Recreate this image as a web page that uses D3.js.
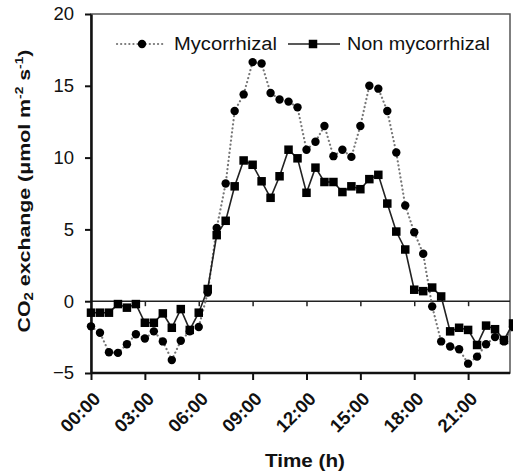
<!DOCTYPE html>
<html><head><meta charset="utf-8">
<script src="https://cdn.jsdelivr.net/npm/d3@7/dist/d3.min.js"></script>
<style>body{margin:0;background:#fff}svg{display:block}</style>
</head><body>
<svg id="c" width="513" height="475"></svg>
<script>
const hours = [0,0.5,1,1.5,2,2.5,3,3.5,4,4.5,5,5.5,6,6.5,7,7.5,8,8.5,9,9.5,10,10.5,11,11.5,
  12,12.5,13,13.5,14,14.5,15,15.5,16,16.5,17,17.5,18,18.5,19,19.5,20,20.5,21,21.5,22,22.5,23,23.5];
const mycorrhizal = [-1.75,-2.2,-3.55,-3.6,-3.0,-2.3,-2.6,-2.1,-2.8,-4.1,-2.75,-2.1,-1.8,0.6,5.1,8.2,
  13.25,14.4,16.65,16.55,14.5,14.05,13.9,13.5,10.55,11.1,12.2,10.1,10.55,10.05,12.2,15.0,
  14.8,13.25,10.35,6.66,4.8,3.3,-0.37,-2.8,-3.15,-3.35,-4.35,-3.86,-3.0,-2.5,-2.8,-1.8];
const nonMycorrhizal = [-0.8,-0.8,-0.8,-0.2,-0.45,-0.2,-1.5,-1.5,-0.85,-1.85,-0.55,-2.0,-0.8,0.85,4.6,5.6,
  8.0,9.8,9.5,8.35,7.2,8.7,10.55,9.95,7.55,9.3,8.3,8.3,7.6,8.0,7.8,8.5,
  8.8,6.8,4.85,3.6,0.8,0.7,0.95,0.33,-2.1,-1.85,-2.0,-3.05,-1.7,-1.95,-2.7,-1.55];
const yTicks = [-5,0,5,10,15,20];
const xTicks = [0,3,6,9,12,15,18,21];
const xTickLabels = ["00:00","03:00","06:00","09:00","12:00","15:00","18:00","21:00"];
const seriesNames = ["Mycorrhizal","Non mycorrhizal"];

const font = "'Liberation Sans', Arial, Helvetica, sans-serif";
const svg = d3.select("#c");
const L = 91, R = 510, T = 14, B = 373;
const x = d3.scaleLinear().domain([0,23.5]).range([L,513]);
const y = d3.scaleLinear().domain([-5,20]).range([B,T]);

// frame
svg.append("rect").attr("x",L).attr("y",T).attr("width",R-L).attr("height",B-T)
  .attr("fill","none").attr("stroke","#555").attr("stroke-width",1.5);

// zero line with ticks
const zg = svg.append("g").attr("transform",`translate(0,${y(0)})`)
  .call(d3.axisBottom(x).tickValues(xTicks.slice(1)).tickSize(5).tickSizeOuter(0).tickFormat(""));
zg.select(".domain").attr("stroke","#222").attr("stroke-width",1.5).attr("d",`M${L},0H${R}`);
zg.selectAll(".tick line").attr("stroke","#222").attr("stroke-width",1.5);

// y axis
const ya = svg.append("g").attr("transform",`translate(${L},0)`)
  .call(d3.axisLeft(y).tickValues(yTicks).tickSize(6).tickSizeOuter(0).tickPadding(11));
ya.select(".domain").attr("stroke","#111").attr("stroke-width",2.5);
ya.selectAll(".tick line").attr("stroke","#111").attr("stroke-width",2);
ya.selectAll(".tick text").attr("font-family",font).attr("font-size",18.5).attr("fill","#111");

// x axis
const xa = svg.append("g").attr("transform",`translate(0,${B})`)
  .call(d3.axisBottom(x).tickValues(xTicks).tickSize(7).tickSizeOuter(0).tickFormat(""));
xa.select(".domain").attr("stroke","#111").attr("stroke-width",2.5).attr("d",`M${L},0H${R}`);
xa.selectAll(".tick line").attr("stroke","#111").attr("stroke-width",2);
xa.selectAll(".tick").append("text")
  .attr("transform","translate(10,27) rotate(-45)")
  .attr("text-anchor","end").attr("font-family",font).attr("font-size",18.5).attr("font-weight","bold")
  .attr("fill","#111").text((d,i)=>xTickLabels[i]);

// lines
const line = d3.line().x((d,i)=>x(hours[i])).y(d=>y(d));
svg.append("path").datum(mycorrhizal).attr("d",line).attr("fill","none")
  .attr("stroke","#777").attr("stroke-width",2.2).attr("stroke-linecap","round").attr("stroke-dasharray","0.1 4");
svg.append("path").datum(nonMycorrhizal).attr("d",line).attr("fill","none")
  .attr("stroke","#222").attr("stroke-width",1.6);

svg.append("g").selectAll("circle").data(mycorrhizal).join("circle")
  .attr("cx",(d,i)=>x(hours[i])).attr("cy",d=>y(d)).attr("r",4.2).attr("fill","#000");
const s = 8.5;
svg.append("g").selectAll("rect").data(nonMycorrhizal).join("rect")
  .attr("x",(d,i)=>x(hours[i])-s/2).attr("y",d=>y(d)-s/2).attr("width",s).attr("height",s).attr("fill","#000");

// legend
const lg = svg.append("g");
lg.append("line").attr("x1",117).attr("x2",165).attr("y1",44).attr("y2",44)
  .attr("stroke","#777").attr("stroke-width",2.2).attr("stroke-linecap","round").attr("stroke-dasharray","0.1 4");
lg.append("circle").attr("cx",142).attr("cy",44).attr("r",4.2).attr("fill","#000");
lg.append("text").attr("x",174).attr("y",50).attr("font-family",font).attr("font-size",18)
  .attr("textLength",103).attr("lengthAdjust","spacingAndGlyphs").attr("fill","#111").text(seriesNames[0]);
lg.append("line").attr("x1",288).attr("x2",340).attr("y1",44).attr("y2",44)
  .attr("stroke","#222").attr("stroke-width",1.6);
lg.append("rect").attr("x",313-s/2).attr("y",44-s/2).attr("width",s).attr("height",s).attr("fill","#000");
lg.append("text").attr("x",347).attr("y",50).attr("font-family",font).attr("font-size",18)
  .attr("textLength",143).attr("lengthAdjust","spacingAndGlyphs").attr("fill","#111").text(seriesNames[1]);

// axis titles
svg.append("text").attr("x",305).attr("y",467).attr("text-anchor","middle")
  .attr("font-family",font).attr("font-size",18).attr("font-weight","bold").attr("fill","#111")
  .attr("textLength",80).attr("lengthAdjust","spacingAndGlyphs").text("Time (h)");

const yt = svg.append("text").attr("transform","translate(30,191) rotate(-90)").attr("text-anchor","middle")
  .attr("font-family",font).attr("font-size",17).attr("font-weight","bold").attr("fill","#111")
  .attr("textLength",283).attr("lengthAdjust","spacingAndGlyphs");
yt.append("tspan").text("CO");
yt.append("tspan").attr("font-size",12).attr("dy",3).text("2");
yt.append("tspan").attr("dy",-3).text(" exchange (μmol m");
yt.append("tspan").attr("font-size",11).attr("dy",-7).text("-2");
yt.append("tspan").attr("dy",7).text(" s");
yt.append("tspan").attr("font-size",11).attr("dy",-7).text("-1");
yt.append("tspan").attr("dy",7).text(")");
</script>
</body></html>
